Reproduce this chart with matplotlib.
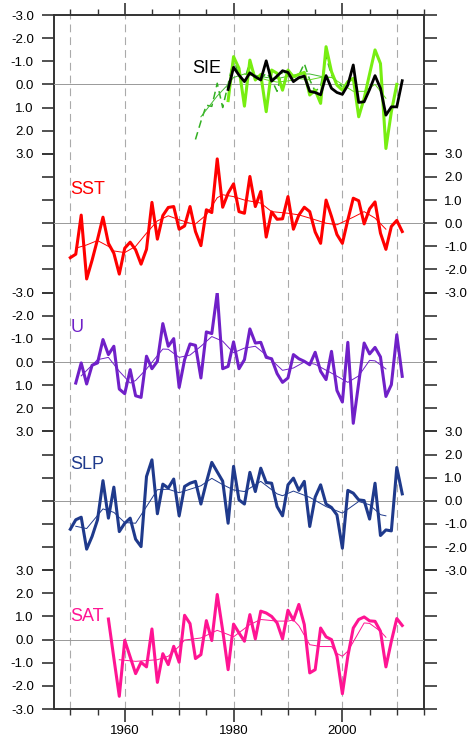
import numpy as np
import matplotlib
matplotlib.use("Agg")
import matplotlib.pyplot as plt

plt.rcParams['font.family'] = ['Liberation Sans', 'DejaVu Sans']

# ---- data (standardized anomalies) ----
sie_years = np.arange(1979, 2012)
sie = [0.22, -0.74, -0.4, -0.12, -0.5, -0.33, -0.19, -1.02, -0.14, -0.36, -0.59,
       -0.52, -0.12, -0.29, -0.36, 0.3, 0.35, 0.45, -0.38, 0.17, 0.35,
       0.43, 0.03, -0.84, 0.78, 0.75, 0.22, -0.38, 0.17, 1.33, 0.97, 0.97, -0.16]
sie2_years = np.arange(1979, 2011)
sie2 = [0.7, -1.2, -0.69, 0.94, -1.05, -0.19, -0.43, 1.18, -0.62, -0.48, 0.25,
        -0.62, -0.33, -0.43, -0.52, 0.46, 0.25, 0.82, -1.63, -0.55, 0.03,
        0.25, -0.12, -0.26, 1.4, 0.6, -0.45, -1.49, -0.9, 2.77, 1.18, 0.0]
sie2_sm_years = [1982, 1984, 1986, 1988, 1990, 1992, 1994, 1996, 1998, 2000, 2002, 2004, 2006, 2008]
sie2_sm = [-0.45, -0.35, -0.2, -0.1, -0.15, -0.25, -0.2, -0.3, -0.3, 0.0, 0.3, 0.3, 0.0, 0.6]
sie3_years = np.arange(1973, 2001)
sie3 = [2.38, 1.6, 0.9, 0.95, -0.05, 1.0, 0.0,
        -1.1, -0.4, -0.15, -1.0, -0.3, -0.2, -0.5, -0.2, 0.3, -0.6,
        -0.4, -0.3, -0.4, -0.9, -0.2, 0.3, 0.1, -1.2, -0.4, -0.1, 0.1]
sie3_sm_years = [1974, 1975, 1976, 1977, 1978, 1979, 1980, 1982, 1984, 1986, 1988, 1990, 1992, 1994, 1996, 1998]
sie3_sm = [1.4, 1.1, 0.8, 0.5, 0.25, 0.0, -0.3, -0.45, -0.4, -0.3, -0.25, -0.35, -0.45, -0.45, -0.35, -0.3]

sst_years = np.arange(1950, 2012)
sst = [-1.49, -1.34, 0.35, -2.41, -1.6, -0.7, 0.26, -0.87, -1.3, -2.2,
       -1.08, -0.82, -1.15, -1.77, -1.13, 0.9, -0.69, 0.33, 0.68, 0.72,
       -0.26, -0.12, 0.72, -0.36, -0.97, 0.58, 0.46, 2.78, 0.69, 1.3,
       1.7, 0.5, 0.43, 2.02, 0.72, 1.37, -0.6, 0.49, 0.17, 0.19,
       1.15, -0.26, 0.35, 0.69, 0.5, -0.38, -0.87, 1.0, 0.29, -0.49,
       -0.87, 0.14, 1.08, 0.97, -0.03, 0.62, 0.92, -0.43, -1.13, -0.14, 0.12, -0.36]
sst_sm_years = [1951, 1953, 1955, 1957, 1958, 1960, 1962, 1964, 1966, 1968, 1970, 1972, 1973, 1975,
                1977, 1978, 1980, 1982, 1985, 1987, 1990, 1992, 1994, 1997, 1999, 2002, 2004, 2006, 2008]
sst_sm = [-1.08, -0.94, -0.75, -1.0, -1.2, -1.27, -1.0, -0.43, 0.1, 0.32, 0.15, 0.0, -0.03, 0.36,
          1.1, 1.23, 1.15, 1.0, 0.87, 0.5, 0.43, 0.36, 0.22, 0.0, -0.07, 0.26, 0.5, 0.22, -0.26]

u_years = np.arange(1951, 2012)
u = [0.91, 0.04, 0.95, 0.14, 0.04, -0.97, -0.32, -0.68, 1.17,
     1.37, 0.33, 1.46, 1.53, -0.25, 0.29, -0.03, -1.66, -0.68, -1.01,
     1.1, -0.1, -0.78, -0.72, 0.69, -1.3, -1.23, -3.0, 0.29, 0.19,
     -0.87, 0.29, -0.1, -1.43, -0.82, -0.85, -0.2, -0.14, 0.5, 0.88,
     0.69, -0.32, -0.14, -0.03, 0.12, -0.42, 0.4, 0.76, -0.46, 1.23,
     1.73, -0.85, 2.65, 0.9, -0.82, -0.35, -0.63, -0.22, 1.49, 0.98, -1.18, 0.62]
u_sm_years = [1952, 1955, 1957, 1959, 1961, 1962, 1964, 1967, 1968, 1970, 1972, 1974, 1976, 1978,
              1980, 1982, 1984, 1986, 1989, 1991, 1993, 1995, 1998, 2001, 2003, 2005, 2006, 2008]
u_sm = [0.6, -0.1, -0.2, 0.4, 0.91, 0.8, 0.3, -0.56, -0.55, -0.2, -0.3, -0.68, -1.1, -0.9,
        -0.4, -0.6, -0.68, -0.3, 0.36, 0.26, 0.0, 0.1, 0.48, 0.88, 0.6, -0.07, -0.05, 0.3]

slp_years = np.arange(1950, 2012)
slp = [-1.23, -0.82, -0.71, -2.09, -1.54, -0.82, 0.87, -0.75, 0.59, -1.33,
       -0.97, -0.75, -1.66, -1.98, 1.05, 1.77, -0.56, 0.72, 0.55, 0.94,
       -0.65, 0.62, 0.76, 0.84, -0.14, 0.8, 1.66, 1.25, 0.85, -0.97,
       1.49, 0.04, -0.14, 1.23, 0.4, 1.41, 0.79, 0.76, -0.25, -0.65,
       0.69, 0.98, 0.45, 0.84, -1.11, 0.16, 0.69, -0.14, -0.29, -0.61,
       -2.05, 0.45, 0.33, 0.04, 0.01, -0.79, 0.76, -1.5, -1.26, -1.3, 1.44, 0.3]
slp_sm_years = [1951, 1953, 1956, 1958, 1960, 1962, 1964, 1966, 1968, 1970, 1972, 1974, 1976, 1978,
                1980, 1982, 1985, 1988, 1989, 1991, 1994, 1997, 2000, 2003, 2005, 2007, 2008]
slp_sm = [-1.1, -1.2, -0.35, -0.5, -0.94, -0.97, -0.25, 0.48, 0.5, 0.35, 0.5, 0.65, 0.97, 0.7,
          0.47, 0.4, 0.84, 0.3, 0.22, 0.42, 0.15, -0.25, -0.53, -0.03, -0.17, -0.6, -0.65]

sat_years = np.arange(1957, 2012)
sat = [0.89, -0.8, -2.45, -0.03, -0.75, -1.47, -0.98, -1.18, 0.46, -1.85, -0.61, -1.08, -0.29,
       -0.98, 1.05, 0.69, -0.82, -0.65, 0.82, -0.04, 1.95, 0.4, -1.3,
       0.67, 0.29, -0.07, 1.08, 0.03, 1.23, 1.15, 1.0, 0.72, 0.03,
       1.27, 0.84, 1.52, 0.65, -1.44, -1.3, 0.5, 0.12, 0.0, -0.72,
       -2.34, -0.72, 0.5, 0.87, 0.98, 0.81, 0.79, 0.36, -1.18, -0.07, 0.91, 0.61]
sat_sm_years = [1959, 1962, 1966, 1968, 1970, 1971, 1974, 1976, 1977, 1979, 1980, 1983, 1985, 1988,
                1990, 1991, 1992, 1994, 1996, 1998, 1999, 2000, 2001, 2002, 2004, 2005, 2007, 2008]
sat_sm = [-0.87, -0.94, -0.87, -0.72, -0.29, -0.02, 0.07, 0.29, 0.4, 0.22, 0.12, 0.65, 0.87, 0.8,
          0.8, 0.85, 0.6, -0.22, -0.3, -0.3, -0.6, -0.72, -0.5, -0.1, 0.72, 0.7, 0.36, 0.1]

yticks = [-3, -2, -1, 0, 1, 2, 3]
grid_years = [1950, 1960, 1970, 1980, 1990, 2000, 2010]

# ---- layout ----
fig = plt.figure(figsize=(4.68, 7.41), dpi=100)
left, width = 54 / 468, 370 / 468
bottom, height = 1 - 709 / 741, 694 / 741
ph = height / 5
xmin, xmax = 1947, 2015
edge = '#333333'

frame = fig.add_axes([left, bottom, width, height])
frame.set_xlim(xmin, xmax)
frame.set_ylim(0, 1)
frame.set_yticks([])
frame.set_xticks([1960, 1980, 2000])
frame.set_xticks(np.arange(1950, 2016, 5), minor=True)
frame.tick_params(axis='x', which='both', top=True, bottom=True, direction='out',
                  color=edge, labelsize=9.5, pad=2.5)
frame.tick_params(axis='x', which='major', length=9, width=1.2)
frame.tick_params(axis='x', which='minor', length=4.5, width=1.0)
for s in frame.spines.values():
    s.set_color(edge)
    s.set_linewidth(1.4)
for yr in grid_years:
    frame.axvline(yr, color='#aaaaaa', lw=0.8, dashes=(7, 4.5), zorder=0)


def panel(i, side, invert):
    ax = fig.add_axes([left, bottom + (4 - i) * ph, width, ph])
    ax.set_xlim(xmin, xmax)
    ax.set_ylim((3, -3) if invert else (-3, 3))
    ax.patch.set_visible(False)
    for s in ax.spines.values():
        s.set_visible(False)
    ax.set_xticks([])
    ax.set_yticks(yticks, [f"{v:.1f}" for v in yticks])
    ax.tick_params(axis='y', left=True, right=True,
                   labelleft=(side == 'left'), labelright=(side == 'right'),
                   direction='out', length=9, width=1.2, color=edge,
                   labelsize=9.5, pad=5.5)
    ax.axhline(0, color='#999999', lw=0.7, zorder=1)
    return ax


thick = 2.2
thin = 0.7

# SIE
ax = panel(0, 'left', True)
ax.plot(sie3_years, sie3, color='#33b022', lw=1.1, ls=(0, (5, 3)))
ax.plot(sie3_sm_years, sie3_sm, color='#44bb33', lw=thin)
ax.plot(sie2_years, sie2, color='#77ee11', lw=thick)
ax.plot(sie2_sm_years, sie2_sm, color='#66dd22', lw=thin)
ax.plot(sie_years, sie, color='black', lw=2.0)
ax.text(1972.4, -0.7, 'SIE', color='black', fontsize=13, ha='left', va='center')

# SST
ax = panel(1, 'right', False)
ax.plot(sst_years, sst, color='#ff0000', lw=thick)
ax.plot(sst_sm_years, sst_sm, color='#ff0000', lw=thin)
ax.text(1950.0, 1.44, 'SST', color='#ff0000', fontsize=13, ha='left', va='center')

# U
ax = panel(2, 'left', True)
ax.plot(u_years, u, color='#7020c8', lw=thick)
ax.plot(u_sm_years, u_sm, color='#7020c8', lw=thin)
ax.text(1950.1, -1.48, 'U', color='#7020c8', fontsize=13, ha='left', va='center')

# SLP
ax = panel(3, 'right', False)
ax.plot(slp_years, slp, color='#1f3a8c', lw=thick)
ax.plot(slp_sm_years, slp_sm, color='#1f3a8c', lw=thin)
ax.text(1950.0, 1.56, 'SLP', color='#1f3a8c', fontsize=13, ha='left', va='center')

# SAT
ax = panel(4, 'left', False)
ax.plot(sat_years, sat, color='#ff1493', lw=thick)
ax.plot(sat_sm_years, sat_sm, color='#ff1493', lw=thin)
ax.text(1950.0, 1.0, 'SAT', color='#ff1493', fontsize=13, ha='left', va='center')

plt.savefig("out.png", dpi=100)
